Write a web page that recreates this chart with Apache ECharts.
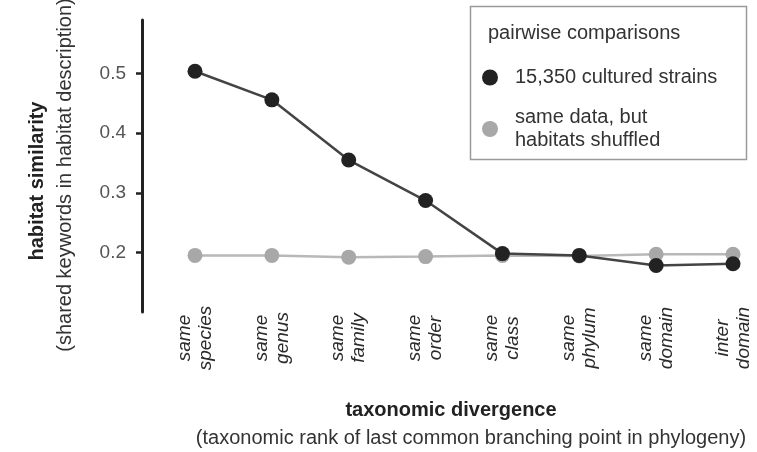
<!DOCTYPE html>
<html>
<head>
<meta charset="utf-8">
<script src="https://cdn.jsdelivr.net/npm/echarts@6/dist/echarts.min.js"></script>
<style>
  html, body { margin: 0; padding: 0; background: #fff; }
  #chart { width: 757px; height: 452px; }
</style>
</head>
<body>
<div id="chart"></div>
<script>
// Taxonomic rank of the last common branching point
const categories = [
  'same\nspecies', 'same\ngenus', 'same\nfamily', 'same\norder',
  'same\nclass', 'same\nphylum', 'same\ndomain', 'inter\ndomain'
];
// Habitat similarity for pairs of cultured strains
const culturedStrains = [0.504, 0.456, 0.355, 0.287, 0.198, 0.195, 0.178, 0.181];
// Same pairs with habitats shuffled (null model)
const shuffledHabitats = [0.195, 0.195, 0.192, 0.193, 0.195, 0.194, 0.197, 0.197];
// Labelled y ticks
const yTicks = [0.2, 0.3, 0.4, 0.5];

const seriesNames = ['15,350 cultured strains', 'same data, but\nhabitats shuffled'];
const FONT = '"Liberation Sans", Arial, sans-serif';

const chart = echarts.init(document.getElementById('chart'));
chart.setOption({
  animation: false,
  backgroundColor: '#ffffff',
  textStyle: { fontFamily: FONT },
  grid: { left: 195, right: 24, top: 20, bottom: 140 },
  xAxis: {
    type: 'category',
    data: categories,
    boundaryGap: false,
    axisLine: { show: false },
    axisTick: { show: false },
    axisLabel: {
      rotate: 90,
      align: 'center',
      verticalAlign: 'middle',
      margin: 26,
      interval: 0,
      fontFamily: FONT,
      fontStyle: 'italic',
      fontSize: 19,
      lineHeight: 21,
      color: '#2a2a2a'
    }
  },
  yAxis: {
    type: 'value',
    min: 0.1,
    max: 0.59,
    interval: 0.1,
    offset: 53,
    splitLine: { show: false },
    axisLine: { show: true, lineStyle: { color: '#222', width: 3 } },
    axisTick: {
      show: true, length: 6, inside: false,
      lineStyle: { color: '#222', width: 2.5 },
      customValues: yTicks
    },
    axisLabel: {
      customValues: yTicks,
      margin: 16,
      fontFamily: FONT,
      fontSize: 19,
      color: '#555',
      formatter: v => v.toFixed(1)
    }
  },
  legend: {
    orient: 'vertical',
    left: 477,
    top: 61,
    itemWidth: 40,
    itemHeight: 16,
    itemGap: 17,
    icon: 'circle',
    data: seriesNames,
    textStyle: { fontFamily: FONT, fontSize: 20, color: '#333', lineHeight: 23 }
  },
  graphic: [
    {
      type: 'rect',
      shape: { x: 470.5, y: 6.5, width: 276, height: 153 },
      style: { fill: 'none', stroke: '#9a9a9a', lineWidth: 1.5 }
    },
    {
      type: 'text',
      x: 488, y: 33,
      style: {
        text: 'pairwise comparisons', fontFamily: FONT, fontSize: 20,
        fill: '#333', verticalAlign: 'middle'
      }
    },
    {
      type: 'text',
      x: 37, y: 181, rotation: Math.PI / 2,
      style: {
        text: 'habitat similarity', fontFamily: FONT, fontSize: 20, fontWeight: 'bold',
        fill: '#222', align: 'center', verticalAlign: 'middle'
      }
    },
    {
      type: 'text',
      x: 65, y: 175, rotation: Math.PI / 2,
      style: {
        text: '(shared keywords in habitat description)', fontFamily: FONT, fontSize: 20,
        fill: '#333', align: 'center', verticalAlign: 'middle'
      }
    },
    {
      type: 'text',
      x: 451, y: 410,
      style: {
        text: 'taxonomic divergence', fontFamily: FONT, fontSize: 20, fontWeight: 'bold',
        fill: '#222', align: 'center', verticalAlign: 'middle'
      }
    },
    {
      type: 'text',
      x: 471, y: 438,
      style: {
        text: '(taxonomic rank of last common branching point in phylogeny)',
        fontFamily: FONT, fontSize: 20,
        fill: '#333', align: 'center', verticalAlign: 'middle'
      }
    }
  ],
  series: [
    {
      name: seriesNames[1],
      type: 'line',
      data: shuffledHabitats,
      symbol: 'circle',
      symbolSize: 15,
      z: 2,
      itemStyle: { color: '#a8a8a8' },
      lineStyle: { color: '#b8b8b8', width: 2.5 }
    },
    {
      name: seriesNames[0],
      type: 'line',
      data: culturedStrains,
      symbol: 'circle',
      symbolSize: 15,
      z: 3,
      itemStyle: { color: '#222' },
      lineStyle: { color: '#444', width: 2.5 }
    }
  ]
});
</script>
</body>
</html>
